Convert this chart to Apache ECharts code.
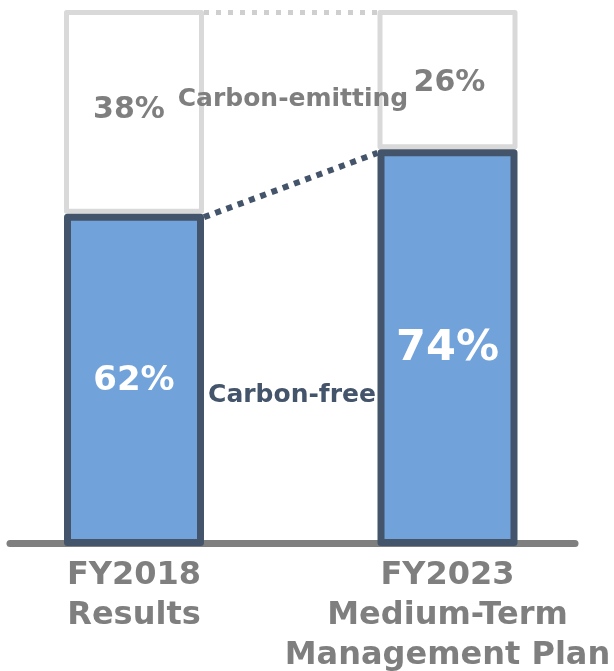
<!DOCTYPE html>
<html>
<head>
<meta charset="utf-8">
<script src="https://cdn.jsdelivr.net/npm/echarts@6/dist/echarts.min.js"></script>
<style>html,body{margin:0;padding:0;background:#fff}#c{width:614px;height:671px}</style>
</head>
<body>
<div id="c"></div>
<script>
const categories = ['FY2018\nResults', 'FY2023\nMedium-Term\nManagement Plan'];
const carbonFree = [62, 74];
const carbonEmitting = [38, 26];
const seriesNames = ['Carbon-free', 'Carbon-emitting'];

const FONT = 'DejaVu Sans';
const BAR_W = 140;
const chart = echarts.init(document.getElementById('c'), null, {renderer: 'canvas'});

function connector(color, dash, dy, lw) {
  return function (params, api) {
    const p1 = api.coord([api.value(0), api.value(1)]);
    const p2 = api.coord([api.value(2), api.value(3)]);
    const h = BAR_W / 2;
    return {
      type: 'line',
      shape: {x1: p1[0] + h, y1: p1[1] + dy, x2: p2[0] - h, y2: p2[1] + dy},
      style: {stroke: color, lineWidth: lw, lineDash: dash, lineCap: 'butt'}
    };
  };
}

const freeLabelSizes = [34, 43];
const emitLabelOffsets = [[-5, -2], [2, 4]];

chart.setOption({
  animation: false,
  grid: [
    {left: -22.75, width: 627, top: 10, bottom: 125, containLabel: false, outerBoundsMode: 'none'},
    {left: 10, right: 39, top: 10, bottom: 128, containLabel: false, outerBoundsMode: 'none'}
  ],
  xAxis: [
    {
      type: 'category', gridIndex: 0, data: categories,
      axisLine: {show: false}, axisTick: {show: false},
      axisLabel: {
        margin: 10, color: '#7f7f7f', fontFamily: FONT, fontWeight: 'bold',
        fontSize: 32, lineHeight: 40, interval: 0, hideOverlap: false
      }
    },
    {
      type: 'value', gridIndex: 1, min: 0, max: 1,
      axisLine: {show: true, lineStyle: {color: '#7f7f7f', width: 7}},
      axisTick: {show: false}, axisLabel: {show: false}, splitLine: {show: false}
    }
  ],
  yAxis: [
    {type: 'value', gridIndex: 0, min: 0, max: 100, show: false},
    {type: 'value', gridIndex: 1, min: 0, max: 1, show: false}
  ],
  series: [
    {
      name: seriesNames[0], type: 'bar', stack: 'total', barWidth: BAR_W, z: 4,
      data: carbonFree.map((v, i) => ({value: v, label: {fontSize: freeLabelSizes[i]}})),
      itemStyle: {color: '#71a2d9', borderColor: '#44546a', borderWidth: 7, borderJoin: 'round'},
      label: {
        show: true, position: 'inside', formatter: '{c}%', color: '#fff',
        fontFamily: FONT, fontWeight: 'bold', offset: [0, 1]
      }
    },
    {
      name: seriesNames[1], type: 'bar', stack: 'total', barWidth: BAR_W, z: 3,
      data: carbonEmitting.map((v, i) => ({value: v, label: {offset: emitLabelOffsets[i]}})),
      itemStyle: {color: '#fff', borderColor: '#d9d9d9', borderWidth: 5, borderJoin: 'round'},
      label: {
        show: true, position: 'inside', formatter: '{c}%', color: '#7f7f7f',
        fontFamily: FONT, fontWeight: 'bold', fontSize: 30
      }
    },
    {
      type: 'custom', xAxisIndex: 0, yAxisIndex: 0, z: 2, silent: true, clip: false,
      renderItem: connector('#44546a', [6, 6], 3.5, 6),
      data: [[0, carbonFree[0], 1, carbonFree[1]]]
    },
    {
      type: 'custom', xAxisIndex: 0, yAxisIndex: 0, z: 2, silent: true, clip: false,
      renderItem: connector('#cfcfcf', [5, 7], 2.5, 5),
      data: [[0, carbonFree[0] + carbonEmitting[0], 1, carbonFree[1] + carbonEmitting[1]]]
    }
  ],
  graphic: [
    {
      type: 'text', z: 100, x: 293, y: 99,
      style: {text: seriesNames[1], fill: '#7f7f7f', font: 'bold 25px "DejaVu Sans"', align: 'center', verticalAlign: 'middle'}
    },
    {
      type: 'text', z: 100, x: 292, y: 395,
      style: {text: seriesNames[0], fill: '#44546a', font: 'bold 25px "DejaVu Sans"', align: 'center', verticalAlign: 'middle'}
    }
  ]
});
</script>
</body>
</html>
